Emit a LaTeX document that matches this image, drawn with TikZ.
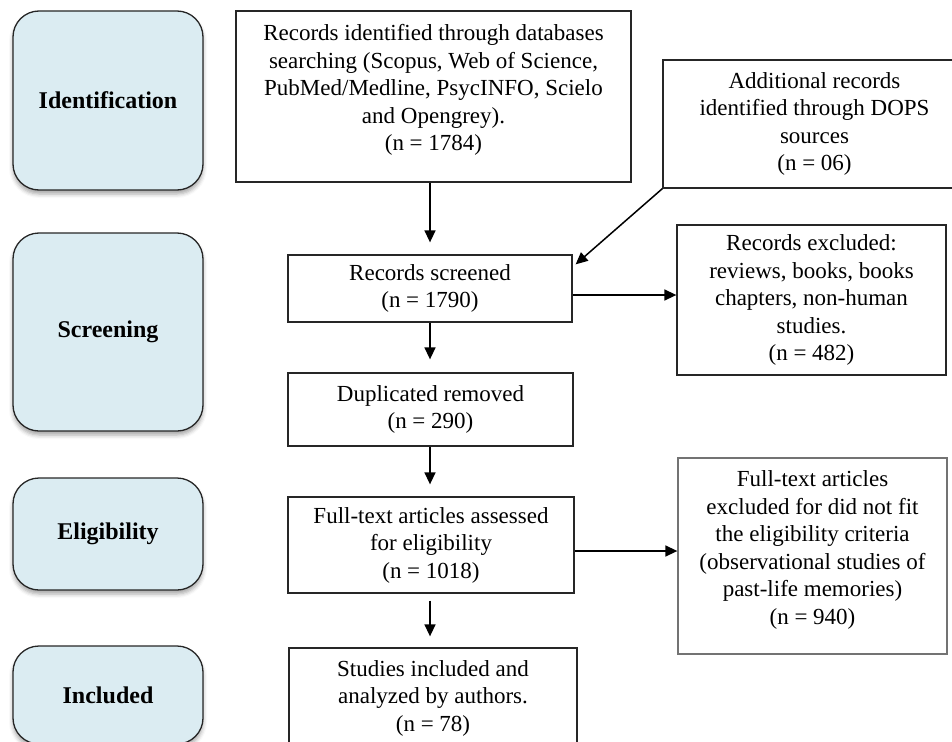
\documentclass[tikz,border=0pt]{standalone}
\usepackage{fontspec}
\setmainfont{Liberation Serif}
\usetikzlibrary{arrows.meta,shadows.blur}
\definecolor{stagefill}{RGB}{219,236,242}
\begin{document}
\begin{tikzpicture}[x=1pt,y=-1pt,line width=1.3pt]
 	\def \stagex{108}
 	\def \midx{430}
 	\tikzstyle{stage-node}=[rectangle,rounded corners=26pt,draw=black!85,fill=stagefill,minimum width=190pt,blur shadow={shadow xshift=0pt,shadow yshift=-4pt,shadow blur radius=4pt,shadow opacity=35},font=\fontsize{24}{28}\selectfont\bfseries]
 	\tikzstyle{flow-node}=[rectangle,draw=black!85,align=center,inner sep=0pt,font=\fontsize{23}{27.5}\selectfont]
 	\tikzstyle{arr}=[line width=1.5pt,-{Triangle[length=12pt,width=11pt]}]
 	\useasboundingbox (0,0) rectangle (952,741);
 	% stage boxes
 	\node[stage-node,minimum height=179pt] 	(ident-stage)	at (\stagex,100.5)	{Identification};
 	\node[stage-node,minimum height=198pt] 	(screen-stage)	at (\stagex,332)	{Screening};
 	\node[stage-node,minimum height=112pt] 	(elig-stage)	at (\stagex,534)	{Eligibility};
 	\node[stage-node,minimum height=98pt] 	(incl-stage)	at (\stagex,695)	{Included};
 	% flow boxes
 	\node[flow-node,minimum width=395pt,minimum height=171pt]	(rec-ident)	at (433.5,96.5)	{Records identified through databases\\ searching (Scopus, Web of Science,\\ PubMed/Medline, PsycINFO, Scielo\\ and Opengrey).\\ (n = 1784)\\[-10pt]~};
 	\node[flow-node,minimum width=303pt,minimum height=128pt]	(rec-dops)	at (814.5,124)	{Additional records\\ identified through DOPS\\ sources\\ (n = 06)};
 	\node[flow-node,minimum width=284pt,minimum height=67pt]	(rec-screen)	at (\midx,288.5)	{Records screened\\ (n = 1790)};
 	\node[flow-node,minimum width=269pt,minimum height=150pt]	(rec-excl)	at (811.5,300)	{Records excluded:\\ reviews, books, books\\ chapters, non-human\\ studies.\\ (n = 482)};
 	\node[flow-node,minimum width=285pt,minimum height=73pt]	(dup)	at (430.5,409.5)	{Duplicated removed\\ (n = 290)};
 	\node[flow-node,minimum width=286pt,minimum height=96pt]	(full-text)	at (431,545)	{Full-text articles assessed\\ for eligibility\\ (n = 1018)};
 	\node[flow-node,draw=black!55,minimum width=269pt,minimum height=196pt]	(full-excl)	at (812.5,556)	{Full-text articles\\ excluded for did not fit\\ the eligibility criteria\\ (observational studies of\\ past-life memories)\\ (n = 940)\\[-11pt]~};
 	\node[flow-node,minimum width=288pt,minimum height=100pt]	(incl)	at (433,698)	{Studies included and\\ analyzed by authors.\\ (n = 78)};
 	% side arrow ends
 	\coordinate (scr-out)	at ([yshift=-6.5pt]rec-screen.east);
 	\coordinate (full-out)	at ([yshift=-6pt]full-text.east);
 	\draw[arr,shorten >=12pt]	(rec-ident.south -| rec-screen.north)	--	(rec-screen.north);
 	\draw[arr]	(rec-dops.south west)	--	([shift={(3,10)}]rec-screen.north east);
 	\draw[arr]	(scr-out)	--	(scr-out -| rec-excl.west);
 	\draw[arr,shorten >=13pt]	(rec-screen.south)	--	(rec-screen.south |- dup.north);
 	\draw[arr,shorten >=12pt]	(rec-screen.south |- dup.south)	--	(rec-screen.south |- full-text.north);
 	\draw[arr]	(full-out)	--	(full-out -| full-excl.west);
 	\draw[arr,shorten <=7pt,shorten >=11pt]	(rec-screen.south |- full-text.south)	--	(rec-screen.south |- incl.north);
\end{tikzpicture}
\end{document}
